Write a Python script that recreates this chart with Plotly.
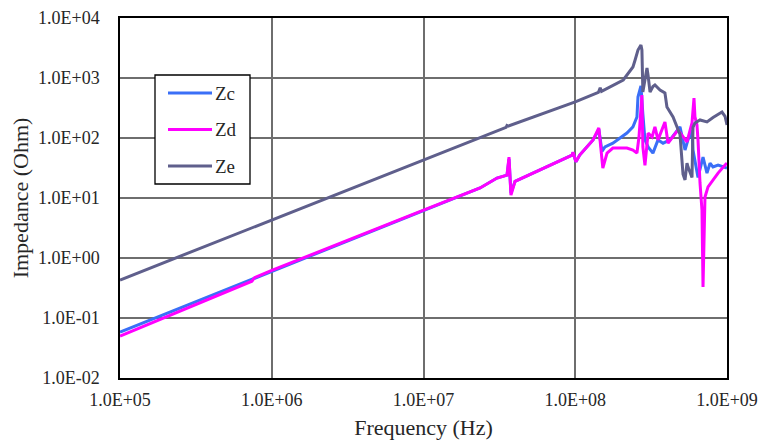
import plotly.graph_objects as go

# ---- data ----
zc_f = [1e5, 1e6, 1e7, 2.36e7, 3.05e7, 3.55e7, 3.66e7, 3.77e7, 4.01e7, 6.52e7, 9.53e7, 9.67e7,
        1.01e8, 1.07e8, 1.31e8, 1.39e8, 1.43e8, 1.50e8, 1.57e8, 1.77e8, 2.19e8, 2.40e8, 2.55e8,
        2.59e8, 2.71e8, 2.79e8, 2.88e8, 3.02e8, 3.25e8, 3.51e8, 3.79e8, 4.21e8, 4.90e8, 5.29e8,
        5.53e8, 5.88e8, 5.97e8, 6.44e8, 6.84e8, 6.95e8, 7.38e8, 7.73e8, 8.09e8, 8.73e8, 1e9]
zc_z = [0.058, 0.6, 6.3, 14.7, 21.5, 24, 45, 12, 19, 33, 52, 57,
        40, 52, 93, 121, 140, 60, 71, 82, 121, 153, 224,
        482, 740, 250, 93, 71, 56, 93, 82, 93, 153, 63,
        93, 136, 63, 22, 38, 48, 26, 38, 33, 35.5, 31.6]

zd_f = [1e5, 7.4e5, 7.7e5, 1e6, 1e7, 2.36e7, 3.05e7, 3.55e7, 3.66e7, 3.77e7, 4.01e7, 6.52e7,
        9.53e7, 9.67e7, 1.01e8, 1.07e8, 1.31e8, 1.43e8, 1.50e8, 1.52e8, 1.62e8, 1.77e8, 2.19e8,
        2.40e8, 2.55e8, 2.63e8, 2.75e8, 2.79e8, 2.88e8, 3.02e8, 3.21e8, 3.35e8, 3.51e8, 3.90e8,
        4.09e8, 4.41e8, 4.75e8, 5.45e8, 5.88e8, 6.06e8, 6.15e8, 6.34e8, 6.44e8, 6.64e8, 6.84e8,
        6.95e8, 7.16e8, 7.50e8, 8.09e8, 8.73e8, 9.71e8, 1e9]
zd_z = [0.05, 0.41, 0.47, 0.62, 6.3, 14.7, 21.5, 24, 48, 11.2, 19, 33,
        52, 58, 40, 52, 93, 147, 48, 31.6, 56, 68, 68,
        63, 56, 104, 520, 71, 35, 121, 104, 153, 93, 185,
        82, 104, 136, 86, 178, 464, 224, 165, 93, 17.8, 6.3,
        0.33, 10.4, 15.3, 20, 26, 35.5, 38]

ze_f = [1e5, 1e6, 1e7, 3.50e7, 3.55e7, 3.62e7, 1e8, 1.42e8, 1.46e8, 1.49e8, 2.07e8,
        2.30e8, 2.40e8, 2.48e8, 2.59e8, 2.71e8, 2.75e8, 2.79e8, 2.88e8, 2.97e8, 3.02e8, 3.11e8,
        3.25e8, 3.35e8, 3.62e8, 3.90e8, 4.02e8, 4.41e8, 4.90e8, 5.13e8, 5.29e8, 5.45e8, 5.53e8,
        5.88e8, 5.97e8, 6.15e8, 6.64e8, 7.38e8, 8.09e8, 8.73e8, 9.27e8, 9.71e8, 1e9]
ze_z = [0.43, 4.3, 43, 150, 162, 158, 400, 575, 690, 600, 926,
        1360, 1525, 2000, 2930, 3550, 2930, 584, 900, 1470, 1100, 584,
        720, 764, 631, 562, 329, 224, 115, 25, 20, 38, 33,
        22, 150, 178, 200, 185, 220, 250, 271, 230, 165]

x_ticks = [1e5, 1e6, 1e7, 1e8, 1e9]
x_ticktext = ["1.0E+05", "1.0E+06", "1.0E+07", "1.0E+08", "1.0E+09"]
y_ticks = [1e-2, 1e-1, 1e0, 1e1, 1e2, 1e3, 1e4]
y_ticktext = ["1.0E-02", "1.0E-01", "1.0E+00", "1.0E+01", "1.0E+02", "1.0E+03", "1.0E+04"]

series_names = ["Zc", "Zd", "Ze"]
series_f = [zc_f, zd_f, ze_f]
series_z = [zc_z, zd_z, ze_z]
colors = ["#3a6ff7", "#ff00ff", "#5f5f8c"]

FONT = "Liberation Serif"
TXT = "#262626"

L, R, T, B = 120, 34, 18, 68
W, H = 761, 446
PW, PH = W - L - R, H - T - B


def px2paper(px, py):
    return (px - L) / PW, (H - B - py) / PH


fig = go.Figure()
for name, f, z, c in zip(series_names, series_f, series_z, colors):
    fig.add_trace(go.Scatter(x=f, y=z, mode="lines", name=name, showlegend=False,
                             line=dict(color=c, width=3)))

# manual legend (box, sample lines, labels)
bx0, by0 = px2paper(155, 184)
bx1, by1 = px2paper(250, 75)
shapes = [dict(type="rect", xref="paper", yref="paper", x0=bx0, x1=bx1, y0=by0, y1=by1,
               line=dict(color="black", width=1.3), fillcolor="white", layer="above")]
annotations = []
for i, (name, c) in enumerate(zip(series_names, colors)):
    ly = 93 + i * 36.5
    lx0, ly_p = px2paper(168, ly)
    lx1, _ = px2paper(212, ly)
    shapes.append(dict(type="line", xref="paper", yref="paper", x0=lx0, x1=lx1, y0=ly_p, y1=ly_p,
                       line=dict(color=c, width=3), layer="above"))
    tx, _ = px2paper(213, ly)
    annotations.append(dict(xref="paper", yref="paper", x=tx, y=ly_p, text=name, showarrow=False,
                            xanchor="left", yanchor="middle",
                            font=dict(family=FONT, size=19, color=TXT)))

fig.update_layout(
    width=W, height=H,
    margin=dict(l=L, r=R, t=T, b=B),
    paper_bgcolor="white", plot_bgcolor="white",
    font=dict(family=FONT, size=18, color=TXT),
    showlegend=False,
    shapes=shapes, annotations=annotations,
)
fig.update_xaxes(type="log", range=[5, 9], tickvals=x_ticks, ticktext=x_ticktext,
                 tickfont=dict(family=FONT, size=18, color=TXT), automargin=False,
                 showgrid=True, gridcolor="#6e6e6e", gridwidth=1.5,
                 showline=True, linecolor="black", linewidth=1.5, mirror=True,
                 ticks="", ticklabelstandoff=5,
                 title=dict(text="Frequency (Hz)", font=dict(family=FONT, size=22, color=TXT), standoff=10))
fig.update_yaxes(type="log", range=[-2, 4], tickvals=y_ticks, ticktext=y_ticktext,
                 tickfont=dict(family=FONT, size=18, color=TXT), automargin=False,
                 showgrid=True, gridcolor="#6e6e6e", gridwidth=1.5,
                 showline=True, linecolor="black", linewidth=1.5, mirror=True,
                 ticks="", ticklabelstandoff=15,
                 title=dict(text="Impedance (Ohm)", font=dict(family=FONT, size=22, color=TXT), standoff=3))

fig.write_html("out.html")
